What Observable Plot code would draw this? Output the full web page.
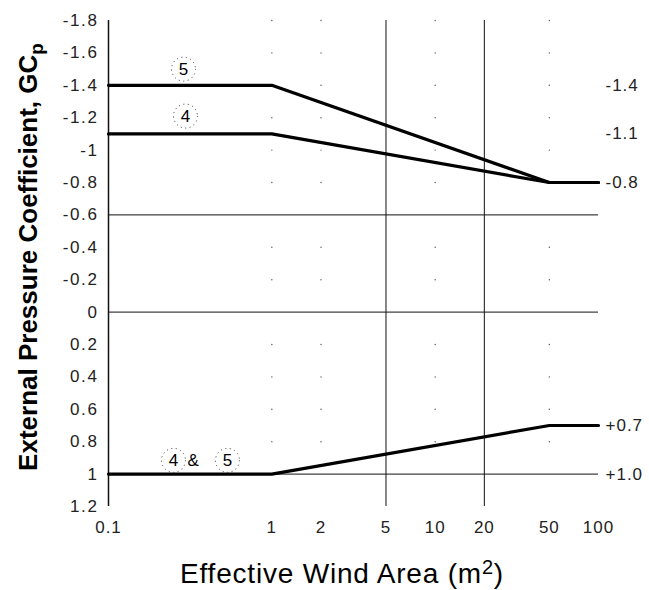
<!DOCTYPE html>
<html>
<head>
<meta charset="utf-8">
<script src="https://cdn.jsdelivr.net/npm/d3@7"></script>
<script src="https://cdn.jsdelivr.net/npm/@observablehq/plot@0.6"></script>
<style>
  html, body { margin: 0; padding: 0; background: #ffffff; }
  #chart svg { display: block; }
</style>
</head>
<body>
<div id="chart"></div>
<script>
// ---- data ----
const area = [0.1, 1, 50, 100];
const zone5 = [-1.4, -1.4, -0.8, -0.8];
const zone4 = [-1.1, -1.1, -0.8, -0.8];
const zonePos = [1.0, 1.0, 0.7, 0.7];

const xTicks = [0.1, 1, 2, 5, 10, 20, 50, 100];
const xTickLabels = ["0.1", "1", "2", "5", "10", "20", "50", "100"];
const yTicks = [-1.8, -1.6, -1.4, -1.2, -1, -0.8, -0.6, -0.4, -0.2, 0, 0.2, 0.4, 0.6, 0.8, 1, 1.2];
const yTickLabels = ["-1.8", "-1.6", "-1.4", "-1.2", "-1", "-0.8", "-0.6", "-0.4", "-0.2", "0", "0.2", "0.4", "0.6", "0.8", "1", "1.2"];

const solidX = [5, 20];
const solidY = [-0.6, 0, 1.0];
const dotGridX = [1, 2, 10, 50];
const dotGridY = [-1.8, -1.6, -1.4, -1.2, -1.0, -0.8, -0.4, -0.2, 0.2, 0.4, 0.6, 0.8];

const rightValues = [-1.4, -1.1, -0.8, 0.7, 1.0];
const rightLabels = ["-1.4", "-1.1", "-0.8", "+0.7", "+1.0"];

const zoneTagText = ["5", "4", "4", "&", "5"];
const zoneTagX = [0.288, 0.296, 0.25, 0.33, 0.535];
const zoneTagY = [-1.50, -1.21, 0.915, 0.915, 0.915];
const zoneTagCircled = [true, true, true, false, true];

const xTitle = "Effective Wind Area (m";
const xTitleSup = "2";
const yTitle = "External Pressure Coefficient, GC";
const yTitleSub = "p";

// ---- build tables ----
const lines = [
  ...area.map((a, i) => ({x: a, y: zone5[i], s: "5"})),
  ...area.map((a, i) => ({x: a, y: zone4[i], s: "4"})),
  ...area.map((a, i) => ({x: a, y: zonePos[i], s: "pos"}))
];
const gridDots = dotGridX.flatMap(x => dotGridY.map(y => ({x, y})));
const rightTable = rightValues.map((v, i) => ({y: v, t: rightLabels[i]}));
const tags = zoneTagText.map((t, i) => ({t, x: zoneTagX[i], y: zoneTagY[i], c: zoneTagCircled[i]}));
const xTickTable = xTicks.map((v, i) => ({x: v, t: xTickLabels[i]}));
const yTickTable = yTicks.map((v, i) => ({y: v, t: yTickLabels[i]}));

const font = "Arial, 'Liberation Sans', sans-serif";

const chart = Plot.plot({
  width: 649,
  height: 590,
  marginLeft: 108,
  marginRight: 51,
  marginTop: 20,
  marginBottom: 84,
  style: {fontFamily: font, background: "#ffffff", color: "#000"},
  x: {type: "log", domain: [0.1, 100], axis: null},
  y: {domain: [-1.8, 1.2], reverse: true, axis: null},
  marks: [
    Plot.dot(gridDots, {x: "x", y: "y", r: 0.7, fill: "#555", stroke: null}),
    Plot.ruleX(solidX, {stroke: "#111", strokeWidth: 1}),
    Plot.ruleY(solidY, {stroke: "#111", strokeWidth: 1}),
    Plot.ruleX([0.1], {stroke: "#111", strokeWidth: 1.5}),
    Plot.line(lines, {x: "x", y: "y", z: "s", stroke: "#000", strokeWidth: 3.2, strokeLinejoin: "round"}),
    // x tick labels
    Plot.text(xTickTable, {x: "x", text: "t", frameAnchor: "bottom", dy: 21, fontSize: 17, fill: "#222", lineAnchor: "middle"}),
    // y tick labels
    Plot.text(yTickTable, {y: "y", text: "t", frameAnchor: "left", dx: -10, textAnchor: "end", fontSize: 17, fill: "#222"}),
    // right labels
    Plot.text(rightTable, {x: () => 100, y: "y", text: "t", dx: 7, textAnchor: "start", fontSize: 17, fill: "#222"}),
    // zone tags
    Plot.dot(tags.filter(d => d.c), {x: "x", y: "y", r: 12, stroke: "#333", strokeWidth: 1, strokeDasharray: "1,3.5", fill: "none"}),
    Plot.text(tags, {x: "x", y: "y", text: "t", fontSize: 17, fill: "#000"})
  ]
});

const svg = d3.select(chart);
const textGroups = svg.selectAll('g[aria-label="text"]').nodes();
textGroups.slice(0, 3).forEach((g, i) => d3.select(g).attr("letter-spacing", i === 1 ? 1.6 : 1));
const xt = svg.append("text")
  .attr("x", 342).attr("y", 583)
  .attr("text-anchor", "middle")
  .attr("font-family", font)
  .attr("font-size", 28)
  .attr("letter-spacing", 0.8)
  .attr("fill", "#000")
  .text(xTitle);
xt.append("tspan").attr("font-size", 20).attr("dy", -9).text(xTitleSup);
xt.append("tspan").attr("dy", 9).text(")");

const yt = svg.append("text")
  .attr("transform", "translate(37,257) rotate(-90)")
  .attr("text-anchor", "middle")
  .attr("font-family", font)
  .attr("font-size", 26)
  .attr("font-weight", "bold")
  .attr("fill", "#000")
  .text(yTitle);
yt.append("tspan").attr("font-size", 19).attr("dy", 6).text(yTitleSub);

document.getElementById("chart").append(chart);
</script>
</body>
</html>
